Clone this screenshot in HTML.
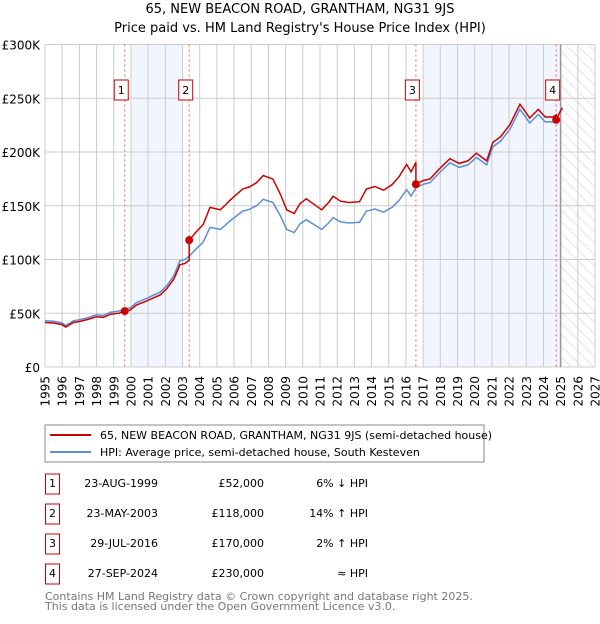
<!DOCTYPE html>
<html><head><meta charset="utf-8"><style>
body{margin:0;background:#fff;font-family:"DejaVu Sans","Liberation Sans",sans-serif;}
svg text{font-family:"DejaVu Sans","Liberation Sans",sans-serif;}
</style></head><body>
<svg id="c" width="600" height="620" xmlns="http://www.w3.org/2000/svg">
<defs><pattern id="hatch" width="8" height="8" patternUnits="userSpaceOnUse" patternTransform="rotate(-45)"><line x1="0" y1="0" x2="0" y2="8" stroke="#ccc" stroke-width="1"/></pattern></defs>
<text x="300" y="13" text-anchor="middle" font-size="13">65, NEW BEACON ROAD, GRANTHAM, NG31 9JS</text>
<text x="300" y="32" text-anchor="middle" font-size="13">Price paid vs. HM Land Registry's House Price Index (HPI)</text>
<g id="plot"></g>
<rect x="45" y="425" width="439" height="37" fill="#fff" stroke="#888"/>
<line x1="50" y1="435" x2="91" y2="435" stroke="#cc0000" stroke-width="2"/>
<text x="100" y="439" font-size="11">65, NEW BEACON ROAD, GRANTHAM, NG31 9JS (semi-detached house)</text>
<line x1="50" y1="452" x2="91" y2="452" stroke="#5b8fd6" stroke-width="2"/>
<text x="100" y="456" font-size="11">HPI: Average price, semi-detached house, South Kesteven</text>
<g id="table"></g>
<text x="45" y="600" font-size="11" fill="#777">Contains HM Land Registry data © Crown copyright and database right 2025.</text>
<text x="45" y="610" font-size="11" fill="#777">This data is licensed under the Open Government Licence v3.0.</text>
</svg>
<script>
const hpiYears=[1995,1995.5,1996,1996.2,1996.65,1997,1997.5,1998,1998.4,1998.8,1999.3,1999.64,1999.95,2000.33,2000.8,2001.2,2001.7,2002.08,2002.5,2002.85,2003.15,2003.44,2003.8,2004.2,2004.6,2005.2,2005.5,2005.76,2006.1,2006.5,2006.9,2007.3,2007.7,2008.26,2008.7,2009.06,2009.5,2009.83,2010.2,2010.6,2011.1,2011.5,2011.76,2012.2,2012.7,2013.3,2013.7,2014.2,2014.7,2015.2,2015.6,2016.04,2016.3,2016.58,2017,2017.4,2017.9,2018.56,2019.1,2019.6,2020.1,2020.4,2020.7,2021.06,2021.5,2022.05,2022.63,2022.9,2023.2,2023.7,2024.1,2024.55,2024.74,2024.96,2025.1];
const hpiValues=[43,42.5,41,38.5,43,44,46,48.6,48,51,52,54,55,60,63,66,69.6,75.5,85,98.7,100,104,110,116,130,128,132,135.8,140,145,146.7,150,156,153,140.5,128,125,133,137,133,128,134,139,135,134,134.6,145,147,144,148.6,155,165,159,166.7,170,171.5,180,190,185.7,188,195,191.5,188,205,210,221,239.6,234,227,235,228,228,230,237,241];
const saleYears=[1999.64,2003.39,2016.58,2024.74];
const salePrices=[52,118,170,230];
const saleLabels=["1","2","3","4"];
const saleDates=["23-AUG-1999","23-MAY-2003","29-JUL-2016","27-SEP-2024"];
const salePriceText=["£52,000","£118,000","£170,000","£230,000"];
const saleHpiText=["6% ↓ HPI","14% ↑ HPI","2% ↑ HPI","≈ HPI"];
const yTicks=[0,50,100,150,200,250,300];
const yTickLabels=["£0","£50K","£100K","£150K","£200K","£250K","£300K"];
const xTicks=[1995,1996,1997,1998,1999,2000,2001,2002,2003,2004,2005,2006,2007,2008,2009,2010,2011,2012,2013,2014,2015,2016,2017,2018,2019,2020,2021,2022,2023,2024,2025,2026,2027];

const X0=45,X1=595,Y0=367,Y1=44.5;
const xs=y=>X0+(y-1995)/(2027-1995)*(X1-X0);
const ys=v=>Y0-v/300*(Y0-Y1);
const NS="http://www.w3.org/2000/svg";
const plot=document.getElementById('plot');
function mk(tag,attrs,parent){const e=document.createElementNS(NS,tag);for(const k in attrs)e.setAttribute(k,attrs[k]);(parent||plot).appendChild(e);return e;}
function hpiAt(t){for(let i=0;i<hpiYears.length-1;i++){if(t>=hpiYears[i]&&t<=hpiYears[i+1]){const f=(t-hpiYears[i])/(hpiYears[i+1]-hpiYears[i]);return hpiValues[i]+f*(hpiValues[i+1]-hpiValues[i]);}}return hpiValues[hpiValues.length-1];}

let e=mk('rect',{x:xs(2000),y:Y1,width:xs(2003)-xs(2000),height:Y0-Y1,fill:'#eef3fc',opacity:0.8});

e=mk('rect',{x:xs(2017),y:Y1,width:xs(2025)-xs(2017),height:Y0-Y1,fill:'#eef3fc',opacity:0.8});

e=mk('rect',{x:xs(2025),y:Y1,width:X1-xs(2025),height:Y0-Y1,fill:'url(#hatch)'});

xTicks.forEach((t,i)=>{
 let l=mk('line',{x1:xs(t),x2:xs(t),y1:Y1,y2:Y0,stroke:'#ccc','stroke-width':1});
 
 let tx=mk('text',{x:0,y:0,'text-anchor':'end','font-size':12,transform:`translate(${xs(t)+4.5},${Y0+9}) rotate(-90)`});tx.textContent=t;
 
});
yTicks.forEach((v,i)=>{
 let l=mk('line',{x1:X0,x2:X1,y1:ys(v),y2:ys(v),stroke:'#ccc','stroke-width':1});
 
 let tx=mk('text',{x:X0-5,y:ys(v)+5,'text-anchor':'end','font-size':12});tx.textContent=yTickLabels[i];
 
});
e=mk('line',{x1:xs(2025),x2:xs(2025),y1:Y1,y2:Y0,stroke:'#999','stroke-width':1.5});

saleYears.forEach((t,i)=>{
 let l=mk('line',{x1:xs(t),x2:xs(t),y1:Y1,y2:Y0,stroke:'#f06060','stroke-width':1,'stroke-dasharray':'2,3'});
 
});
let d=hpiYears.map((t,i)=>(i?'L':'M')+xs(t).toFixed(1)+','+ys(hpiValues[i]).toFixed(1)).join('');
e=mk('path',{d:d,fill:'none',stroke:'#5b8fd6','stroke-width':1.5});

let pts=[];
const tset=[...new Set(hpiYears.concat(saleYears))].sort((a,b)=>a-b);
tset.forEach(t=>{
 let k=0;for(let i=0;i<saleYears.length;i++)if(t>=saleYears[i])k=i;
 if(saleYears.includes(t)&&saleYears.indexOf(t)>0){const p=saleYears.indexOf(t)-1;pts.push([t,salePrices[p]*hpiAt(t)/hpiAt(saleYears[p])]);}
 pts.push([t,salePrices[k]*hpiAt(t)/hpiAt(saleYears[k])]);
});
d=pts.map((p,i)=>(i?'L':'M')+xs(p[0]).toFixed(1)+','+ys(p[1]).toFixed(1)).join('');
e=mk('path',{d:d,fill:'none',stroke:'#cc0000','stroke-width':1.5});

saleYears.forEach((t,i)=>{
 let c=mk('circle',{cx:xs(t),cy:ys(salePrices[i]),r:4,fill:'#cc0000'});
 
 let g=mk('rect',{x:xs(t)-10.5,y:80,width:14,height:20,fill:'#fff',stroke:'#cc0000'});
 
 let tx=mk('text',{x:xs(t)-3.5,y:94,'text-anchor':'middle','font-size':11});tx.textContent=saleLabels[i];
 
});
const tb=document.getElementById('table');
saleYears.forEach((t,i)=>{
 const cy=483+i*30;
 let r=mk('rect',{x:45.5,y:cy-9,width:14,height:20,fill:'#fff',stroke:'#cc0000'},tb);
 
 let a=mk('text',{x:52.5,y:cy+4,'text-anchor':'middle','font-size':11},tb);a.textContent=saleLabels[i];
 
 let b=mk('text',{x:158,y:cy+4,'text-anchor':'end','font-size':11},tb);b.textContent=saleDates[i];
 
 let c=mk('text',{x:264,y:cy+4,'text-anchor':'end','font-size':11},tb);c.textContent=salePriceText[i];
 
 let h=mk('text',{x:368,y:cy+4,'text-anchor':'end','font-size':11},tb);h.textContent=saleHpiText[i];
 
});
</script>
</body></html>
